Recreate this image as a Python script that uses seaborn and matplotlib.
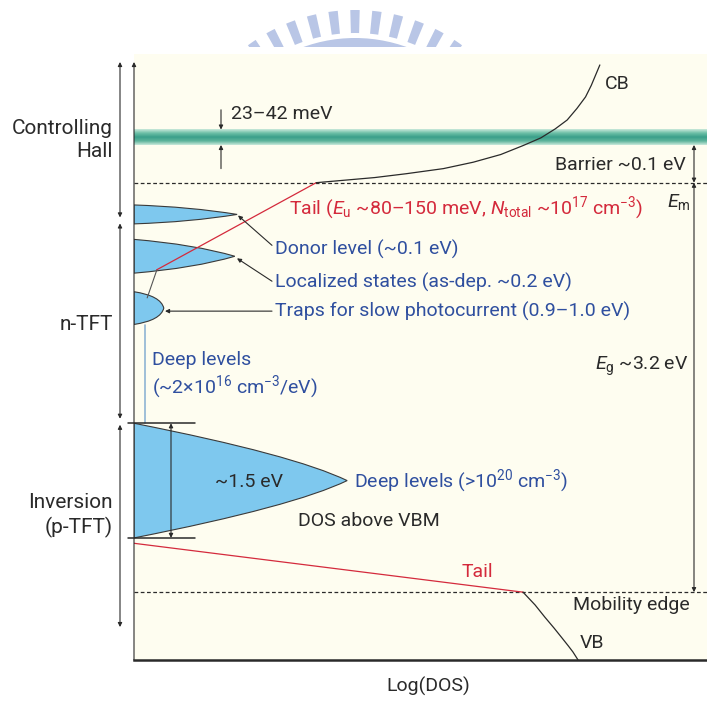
import matplotlib
matplotlib.use('Agg')
import matplotlib.pyplot as plt
import numpy as np
import seaborn as sns
from matplotlib.colors import LinearSegmentedColormap
from matplotlib.path import Path
from matplotlib.patches import PathPatch, Wedge, Rectangle

# energies in eV above the valence-band mobility edge, x = log(DOS) in arb. units
E_m = 3.2
E_mobility = 0.0
E_hall = 3.555
hall_halfwidth = 0.06

cb_logdos = [3.18, 4.20, 4.75, 5.40, 5.92, 6.40, 6.79, 7.10, 7.35, 7.56, 7.73, 7.88, 7.98, 8.13]
cb_E = [3.20, 3.24, 3.27, 3.31, 3.36, 3.42, 3.49, 3.55, 3.62, 3.69, 3.78, 3.87, 3.96, 4.12]

upper_tail_logdos = [3.18, 0.40]
upper_tail_E = [3.20, 2.52]

link_logdos = [0.40, 0.23]
link_E = [2.52, 2.30]

lower_tail_logdos = [0.0, 6.79]
lower_tail_E = [0.382, 0.0]

vb_logdos = [6.79, 7.00, 7.17, 7.33, 7.47, 7.58, 7.66, 7.75]
vb_E = [0.0, -0.10, -0.195, -0.28, -0.358, -0.42, -0.467, -0.53]

level_names = ['Donor level', 'Localized states', 'Traps', 'Deep levels']
level_center = [2.952, 2.625, 2.22, 0.872]
level_halfwidth = [0.074, 0.132, 0.128, 0.448]
level_peak = [1.80, 1.76, 0.52, 3.72]

deep_cont_logdos = [0.19, 0.19]
deep_cont_E = [2.09, 1.324]

sns.set_theme(style='white')
base = 'Roboto'
plt.rcParams['font.family'] = [base, 'DejaVu Sans']
plt.rcParams['mathtext.fontset'] = 'custom'
plt.rcParams['mathtext.rm'] = base
plt.rcParams['mathtext.it'] = base + ':italic'
plt.rcParams['mathtext.bf'] = base + ':bold'

FS = 14
dark = '#2a2a2a'
blue_txt = '#2f4f9f'
red = '#d42a3c'
fill_blue = '#7ec8ee'


def X(px):
    return (px - 134) / 57.3


def Y(py):
    return (592 - py) / 128.4


fig = plt.figure(figsize=(7.07, 7.02), dpi=100)

# faint watermark behind the chart
wm = fig.add_axes([0, 0, 1, 1], zorder=-1)
wm.set_xlim(0, 707)
wm.set_ylim(702, 0)
wm.axis('off')
clip = Rectangle((0, 0), 707, 47, transform=wm.transData)
for th in np.arange(228, 313, 7):
    w = Wedge((355, 190), 180, th - 1.5, th + 1.5, width=23, color='#b9c6e6', lw=0)
    wm.add_patch(w)
    w.set_clip_path(clip)
ring = Wedge((355, 190), 152, 222, 318, width=9, color='#b9c6e6', lw=0)
wm.add_patch(ring)
ring.set_clip_path(clip)

ax = fig.add_axes([134 / 707, 42 / 702, 573 / 707, 606 / 702])
ax.set_xlim(0, 10)
ax.set_ylim(-0.53, Y(52))
ax.set_facecolor('#fefdf0')
for s in ['top', 'right', 'left']:
    ax.spines[s].set_visible(False)
ax.spines['bottom'].set_color(dark)
ax.spines['bottom'].set_linewidth(1.8)
ax.set_xticks([])
ax.set_yticks([])

# Hall band (gradient)
cmap = LinearSegmentedColormap.from_list('hall', ['#c8e8da', '#6cbfa6', '#3a9f8a', '#5db49b', '#c8e8da'])
ax.imshow(np.linspace(0, 1, 60).reshape(-1, 1), cmap=cmap, aspect='auto',
          extent=[0, 10, E_hall - hall_halfwidth, E_hall + hall_halfwidth], zorder=1)

# mobility edges
for e in [E_m, E_mobility]:
    ax.axhline(e, color=dark, lw=0.9, ls=(0, (3, 2)), zorder=2)

# localized level lobes
shape = [(0.55, 0.8), (0.6, 0.7), (0.9, 0.75), (0.75, 0.45)]
for c, h, p, (fx, fy) in zip(level_center, level_halfwidth, level_peak, shape):
    verts = [(0, c + h), (fx * p, c + fy * h), (p, c), (fx * p, c - fy * h), (0, c - h), (0, c + h)]
    codes = [Path.MOVETO, Path.CURVE3, Path.CURVE3, Path.CURVE3, Path.CURVE3, Path.CLOSEPOLY]
    ax.add_patch(PathPatch(Path(verts, codes), facecolor=fill_blue, edgecolor='#3a3a3a', lw=0.8, zorder=3))

sns.lineplot(x=deep_cont_logdos, y=deep_cont_E, ax=ax, color='#8fb4d4', lw=1.2, sort=False, estimator=None, zorder=3)
sns.lineplot(x=link_logdos, y=link_E, ax=ax, color='#555555', lw=0.8, sort=False, estimator=None, zorder=4)
sns.lineplot(x=upper_tail_logdos, y=upper_tail_E, ax=ax, color=red, lw=0.9, sort=False, estimator=None, zorder=4)
sns.lineplot(x=lower_tail_logdos, y=lower_tail_E, ax=ax, color=red, lw=0.9, sort=False, estimator=None, zorder=4)
sns.lineplot(x=cb_logdos, y=cb_E, ax=ax, color=dark, lw=0.9, sort=False, estimator=None, zorder=4)
sns.lineplot(x=vb_logdos, y=vb_E, ax=ax, color=dark, lw=0.9, sort=False, estimator=None, zorder=4)

deep_top = level_center[3] + level_halfwidth[3]
deep_bot = level_center[3] - level_halfwidth[3]
for e in [deep_top, deep_bot]:
    ax.plot([X(128), X(195)], [e, e], color=dark, lw=1.1, clip_on=False, zorder=5)


def arrow(x0, y0, x1, y1, style='<|-|>'):
    ax.annotate('', xy=(x1, y1), xytext=(x0, y0), annotation_clip=False,
                arrowprops=dict(arrowstyle=style, color=dark, lw=0.8, mutation_scale=6,
                                shrinkA=0, shrinkB=0), zorder=5)


arrow(X(171), deep_top, X(171), deep_bot)
# left side ranges
arrow(X(120), Y(60), X(120), Y(216))
arrow(X(120), Y(222), X(120), Y(418))
arrow(X(120), Y(424), X(120), Y(627))
arrow(0, -0.53, 0, Y(60), style='-|>')
# right side
arrow(X(694), E_hall - hall_halfwidth, X(694), E_m)
arrow(X(694), E_m, X(694), E_mobility)
# 23-42 meV
arrow(X(221), Y(108), X(221), E_hall + hall_halfwidth, style='-|>')
arrow(X(221), Y(167), X(221), E_hall - hall_halfwidth, style='-|>')

# leader lines to the lobes
arrow(X(272), Y(244), X(238), Y(214), style='-|>')
arrow(X(272), Y(280), X(237), Y(257), style='-|>')
arrow(X(272), Y(310), X(165), Y(310), style='-|>')


def txt(px, py, s, color=dark, ha='left', size=FS, **kw):
    ax.text(X(px), Y(py), s, color=color, ha=ha, va='center', fontsize=size, clip_on=False, **kw)


txt(113, 138, 'Controlling\nHall', ha='right', size=15, linespacing=1.25, multialignment='right')
txt(113, 323, 'n-TFT', ha='right', size=15)
txt(113, 515, 'Inversion\n(p-TFT)', ha='right', size=15, linespacing=1.25, multialignment='right')
txt(231, 112, '23–42 meV')
txt(605, 82, 'CB')
txt(555, 163, 'Barrier ~0.1 eV')
txt(667, 200, '$E_\\mathrm{m}$')
txt(289, 207, 'Tail ($E_\\mathrm{u}$ ~80–150 meV, $N_\\mathrm{total}$ ~10$^{17}$ cm$^{-3}$)', color=red)
txt(275, 248, 'Donor level (~0.1 eV)', color=blue_txt)
txt(275, 281, 'Localized states (as-dep. ~0.2 eV)', color=blue_txt)
txt(275, 310, 'Traps for slow photocurrent (0.9–1.0 eV)', color=blue_txt)
txt(152, 375, 'Deep levels\n(~2×10$^{16}$ cm$^{-3}$/eV)', color=blue_txt, linespacing=1.2)
txt(595, 365, '$E_\\mathrm{g}$ ~3.2 eV')
txt(249, 481, '~1.5 eV', ha='center')
txt(354, 481, 'Deep levels (>10$^{20}$ cm$^{-3}$)', color=blue_txt)
txt(298, 521, 'DOS above VBM')
txt(462, 572, 'Tail', color=red)
txt(573, 605, 'Mobility edge')
txt(580, 643, 'VB')
txt(428, 687, 'Log(DOS)', ha='center')

fig.savefig('out.png', dpi=100)
